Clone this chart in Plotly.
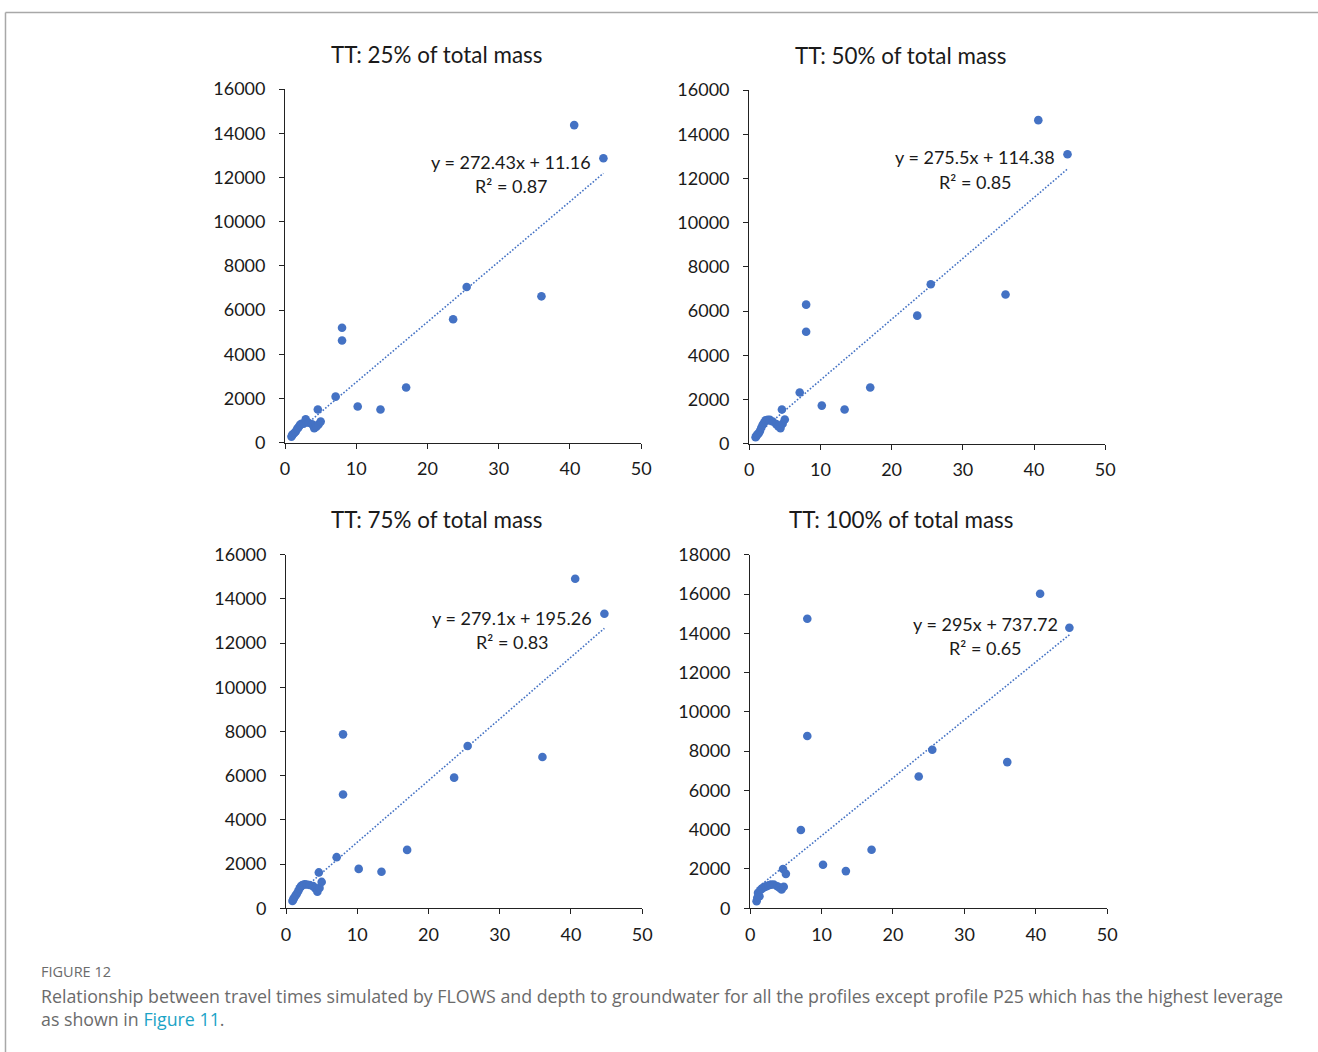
import plotly.graph_objects as go

# Figure size; positions below are given in reference-image pixels and mapped
# to figure pixels through the (measured) capture transform.
W, H = 1330, 1064
SX, OX = 0.9885, 5.0
SY, OY = 0.978, 12.0

# Depth to groundwater (m) for each profile (shared by all panels)
depth = [0.9, 1.0, 1.1, 1.3, 1.5, 1.7, 1.9, 2.1, 2.3, 2.6, 2.9, 3.3, 3.8, 4.1, 4.4,
         4.6, 4.7, 5.0, 7.1, 8.0, 8.0, 10.2, 13.4, 17.0, 23.6, 25.5, 36.0, 40.6, 44.7]

tt25 = [270, 330, 380, 430, 500, 620, 700, 800, 850, 850, 1050, 900, 830, 650, 720,
        1500, 820, 950, 2080, 5200, 4620, 1630, 1500, 2490, 5580, 7040, 6620, 14370, 12870]
tt50 = [290, 330, 400, 450, 560, 720, 850, 950, 1050, 1080, 1080, 1000, 880, 780, 700,
        1540, 900, 1090, 2310, 6290, 5060, 1720, 1540, 2540, 5790, 7210, 6750, 14640, 13100]
tt75 = [330, 390, 450, 560, 650, 770, 900, 1000, 1050, 1080, 1070, 1050, 1000, 900, 750,
        1620, 920, 1190, 2310, 7870, 5150, 1780, 1650, 2640, 5910, 7340, 6845, 14910, 13330]
tt100 = [360, 530, 780, 610, 950, 1000, 1070, 1100, 1120, 1170, 1200, 1210, 1120, 1050, 950,
         2000, 1090, 1750, 3980, 14740, 8770, 2210, 1890, 2980, 6710, 8070, 7440, 16010, 14280]

titles = ["TT: 25% of total mass", "TT: 50% of total mass",
          "TT: 75% of total mass", "TT: 100% of total mass"]
slopes = [272.43, 275.5, 279.1, 295.0]
intercepts = [11.16, 114.38, 195.26, 737.72]
eq_labels = ["y = 272.43x + 11.16", "y = 275.5x + 114.38",
             "y = 279.1x + 195.26", "y = 295x + 737.72"]
r2_labels = ["R² = 0.87", "R² = 0.85", "R² = 0.83", "R² = 0.65"]
y_max = [16000, 16000, 16000, 18000]
x_ticks = [0, 10, 20, 30, 40, 50]

series = [tt25, tt50, tt75, tt100]

BLUE = "#4472C4"
FONT = "Lato"
TXT = "#1a1a1a"

# pixel boxes of the plot areas: (x0, x1, ybottom, ytop)
boxes = [(285, 641, 442, 89), (749, 1105, 443, 90),
         (286, 642, 907, 554), (750, 1107, 907, 554)]
title_pos = [(436, 54), (900, 55), (436, 519), (901, 519)]
eq_pos = [(511, 162, 186), (975, 157, 182), (512, 617, 641), (985, 623, 647)]


def px(x):
    return max((x - OX) / SX, 0.5) / W


def py(y):
    return 1 - max((y - OY) / SY, 0.5) / H


fig = go.Figure()
layout = dict(
    width=W, height=H, margin=dict(l=0, r=0, t=0, b=0),
    paper_bgcolor="white", plot_bgcolor="white", showlegend=False,
    font=dict(family=FONT, size=18, color=TXT),
)
annotations = []
shapes = []

for i in range(4):
    n = "" if i == 0 else str(i + 1)
    xa, ya = "x" + n, "y" + n
    x0, x1, yb, yt = boxes[i]
    ys = series[i]
    xl = [min(depth), max(depth)]
    yl = [slopes[i] * v + intercepts[i] for v in xl]
    fig.add_trace(go.Scatter(
        x=xl, y=yl, mode="lines", xaxis=xa, yaxis=ya,
        line=dict(color=BLUE, width=1.6, dash="1.6px,1.8px"), hoverinfo="skip"))
    fig.add_trace(go.Scatter(
        x=depth, y=ys, mode="markers", xaxis=xa, yaxis=ya,
        marker=dict(color=BLUE, size=8.6, line=dict(width=0)),
        hoverinfo="x+y"))

    axis_common = dict(showgrid=False, zeroline=False, showline=True,
                       linecolor="#222", linewidth=1, ticks="outside",
                       ticklen=5, tickcolor="#222", tickwidth=1,
                       tickformat="d",
                       tickfont=dict(family=FONT, size=18, color=TXT))
    layout["xaxis" + n] = dict(
        axis_common, domain=[px(x0), px(x1)], range=[0, 50],
        tickvals=x_ticks, anchor=ya, ticklabelstandoff=5, fixedrange=True)
    layout["yaxis" + n] = dict(
        axis_common, domain=[py(yb), py(yt)], range=[0, y_max[i]],
        dtick=2000, anchor=xa, ticklabelstandoff=10, fixedrange=True)

    tx, ty = title_pos[i]
    annotations.append(dict(
        text=titles[i], x=px(tx), y=py(ty), xref="paper", yref="paper",
        xanchor="center", yanchor="middle", showarrow=False,
        font=dict(family=FONT, size=22.4, color=TXT)))
    ex, ey1, ey2 = eq_pos[i]
    annotations.append(dict(
        text=eq_labels[i], x=px(ex), y=py(ey1), xref="paper", yref="paper",
        xanchor="center", yanchor="middle", showarrow=False,
        font=dict(family=FONT, size=18, color=TXT)))
    annotations.append(dict(
        text=r2_labels[i], x=px(ex), y=py(ey2), xref="paper", yref="paper",
        xanchor="center", yanchor="middle", showarrow=False,
        font=dict(family=FONT, size=18, color=TXT)))

# caption
annotations.append(dict(
    text="FIGURE 12", x=px(39), y=py(970), xref="paper", yref="paper",
    xanchor="left", yanchor="middle", showarrow=False,
    font=dict(family="Open Sans", size=14.5, color="#6b6b6b")))
annotations.append(dict(
    text=("Relationship between travel times simulated by FLOWS and depth to groundwater "
          "for all the profiles except profile P25 which has the highest leverage<br>"
          "as shown in <span style='color:#1ba3c6'>Figure 11</span>."),
    x=px(39), y=py(1006), xref="paper", yref="paper", align="left",
    xanchor="left", yanchor="middle", showarrow=False,
    font=dict(family="Open Sans", size=17.8, color="#6b6b6b")))

# frame
shapes.append(dict(type="line", xref="paper", yref="paper",
                   x0=px(4), x1=1, y0=py(7), y1=py(7),
                   line=dict(color="#a8a8a8", width=1.5)))
shapes.append(dict(type="line", xref="paper", yref="paper",
                   x0=px(4), x1=px(4), y0=py(7), y1=0,
                   line=dict(color="#a8a8a8", width=1.5)))

layout["annotations"] = annotations
layout["shapes"] = shapes
fig.update_layout(**layout)
fig.write_html("out.html")
